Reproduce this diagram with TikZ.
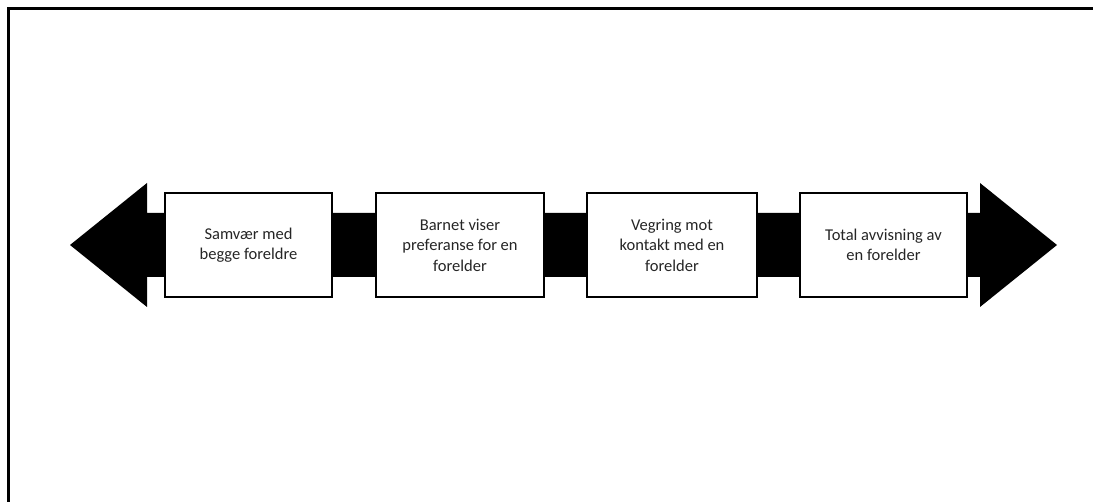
\documentclass[tikz,border=0pt]{standalone}
\usepackage{fontspec}
\setmainfont{Carlito}
\begin{document}
\begin{tikzpicture}[x=1pt,y=-1pt,
  stagebox/.style={draw=black,line width=1.4pt,fill=white,minimum width=167pt,minimum height=104pt,inner sep=2pt,align=center,font=\fontsize{16.5}{20.5}\selectfont,text=black!85},
  framestroke/.style={line width=3pt,line cap=rect}]
\useasboundingbox (0,0) rectangle (1093,502);
\fill[white] (0,0) rectangle (1093,502);
% frame (top and left edges)
\draw[framestroke] (8,502) -- (8,9) -- (1093,9);
% double arrow behind boxes
\fill[black] (70,245) -- (147,183) -- (147,213) -- (980,213) -- (980,183) -- (1057,245)
  -- (980,307) -- (980,277) -- (147,277) -- (147,307) -- cycle;
\node[stagebox] (b1) at (248.5,245) {Samvær med\\begge foreldre};
\node[stagebox,minimum width=168pt] (b2) at (460,245) {Barnet viser\\preferanse for en\\forelder};
\node[stagebox,minimum width=170pt] (b3) at (672,245) {Vegring mot\\kontakt med en\\forelder};
\node[stagebox] (b4) at (883.5,245) {Total avvisning av\\en forelder};
\end{tikzpicture}
\end{document}
